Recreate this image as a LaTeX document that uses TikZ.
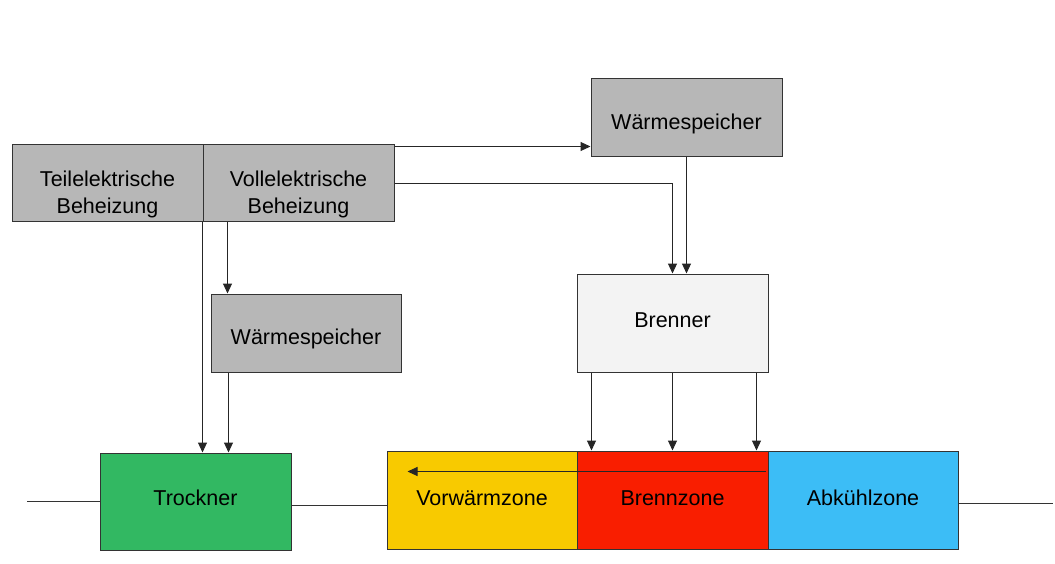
\documentclass[tikz,border=0pt]{standalone}
\usepackage{fontspec}
\setmainfont{Liberation Sans}
\usetikzlibrary{arrows.meta}
\definecolor{boxgray}{HTML}{B7B7B7}
\definecolor{brennergray}{HTML}{F3F3F3}
\definecolor{trgreen}{HTML}{32B862}
\definecolor{zyellow}{HTML}{F8CA00}
\definecolor{zred}{HTML}{F91E00}
\definecolor{zblue}{HTML}{3CBDF6}
\definecolor{edge}{HTML}{333333}
\tikzset{
  blk/.style={draw=edge, line width=1pt, minimum width=191pt, minimum height=78pt, inner sep=0pt},
  txt/.style={inner sep=0pt, align=center, font=\fontsize{21.5}{27}\selectfont, text=black},
  arr/.style={draw=black!85, line width=1pt, -{Triangle[length=10pt,width=9pt]}},
  ln/.style={draw=black!80, line width=1pt},
}
\begin{document}
\begin{tikzpicture}[x=1pt,y=-1pt]
\useasboundingbox (0,0) rectangle (1055,563);
% boxes
\node[blk, fill=boxgray, minimum height=77pt] (teil) at (107.5,182.5) {};
\node[blk, fill=boxgray, minimum height=77pt] (voll) at (298.5,182.5) {};
\node[blk, fill=boxgray] (ws1) at (686.5,117) {};
\node[blk, fill=brennergray, minimum height=98pt] (brenner) at (672.5,323) {};
\node[blk, fill=boxgray, minimum width=190pt] (ws2) at (306,333) {};
\node[blk, fill=trgreen, minimum height=97pt] (trockner) at (195.5,501.5) {};
\node[blk, fill=zyellow, minimum width=190pt, minimum height=98pt] (vor) at (482,500) {};
\node[blk, fill=zred, minimum height=98pt] (brenn) at (672.5,500) {};
\node[blk, fill=zblue, minimum width=190pt, minimum height=98pt] (abk) at (863,500) {};
% texts
\node[txt] (teilT) at (107.5,194) {Teilelektrische\\Beheizung};
\node[txt] (vollT) at (298.5,194) {Vollelektrische\\Beheizung};
\node[txt] (ws1T) at (686.5,124) {Wärmespeicher};
\node[txt] (brennerT) at (672.5,320) {Brenner};
\node[txt] (ws2T) at (306,339) {Wärmespeicher};
\node[txt] (trocknerT) at (195.5,498) {Trockner};
\node[txt] (vorT) at (482,498) {Vorwärmzone};
\node[txt] (brennT) at (672.5,498) {Brennzone};
\node[txt] (abkT) at (863,498) {Abkühlzone};
\coordinate (inL) at (27,501);
\coordinate (outR) at (1053,503);
% connectors
\draw[arr] ([yshift=-3pt]voll.north east) -- ([yshift=-3pt]voll.north east -| ws1.west);
\draw[arr] ([yshift=-1pt]voll.east) -| (brenner.north);
\draw[arr] (ws1.south) -- (ws1.south |- brenner.north);
\draw[arr] (voll.south west) -- (voll.south west |- trockner.north);
\draw[arr] ([xshift=25pt]voll.south west) -- ([xshift=25pt]voll.south west |- ws2.north);
\draw[arr] ([xshift=18pt]ws2.south west) -- ([xshift=18pt]ws2.south west |- trockner.north);
\draw[arr] ([xshift=15pt]brenner.south west) -- ([xshift=15pt]brenner.south west |- brenn.north);
\draw[arr] (brenner.south) -- (brenner.south |- brenn.north);
\draw[arr] ([xshift=-12pt]brenner.south east) -- ([xshift=-12pt]brenner.south east |- brenn.north);
\draw[arr] ([xshift=-3pt,yshift=-21pt]brenn.north east) -- ([xshift=21pt,yshift=-21pt]vor.north west);
\draw[ln] (inL) -- (inL -| trockner.west);
\draw[ln] ([yshift=-4pt]trockner.east) -- ([yshift=-4pt]trockner.east -| vor.west);
\draw[ln] (outR -| abk.east) -- (outR);
\end{tikzpicture}
\end{document}
